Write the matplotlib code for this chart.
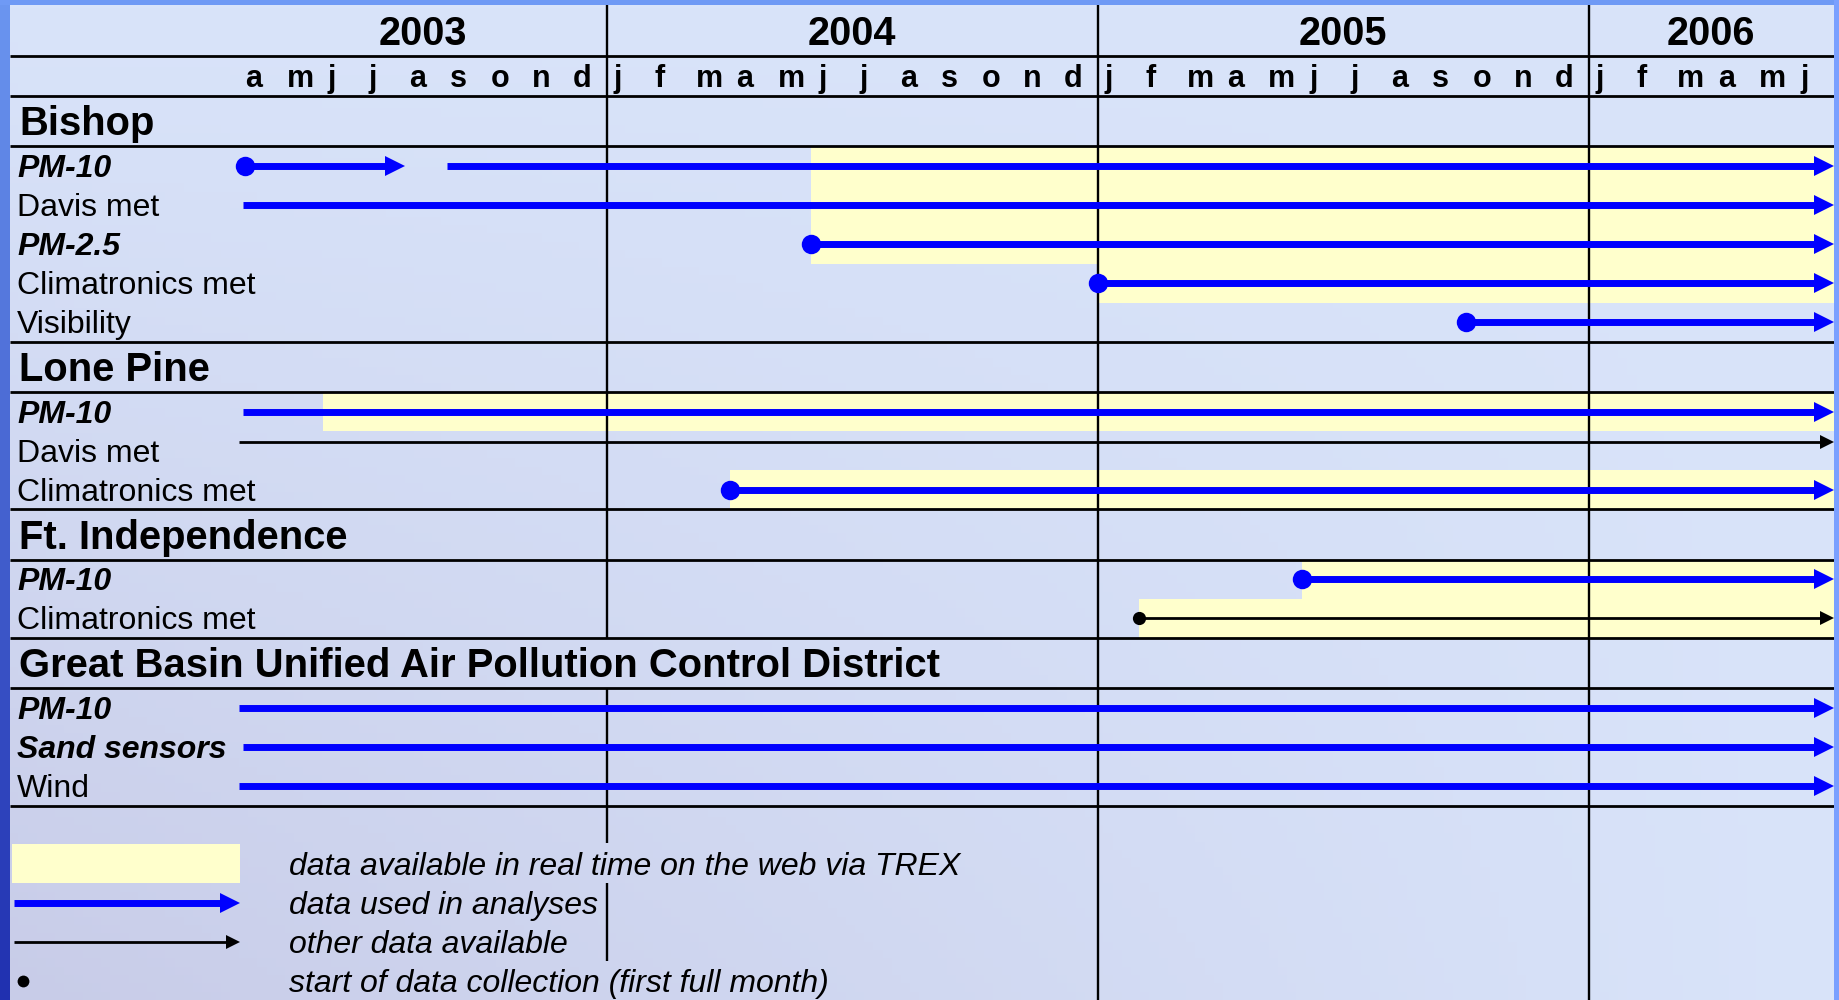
import numpy as np
import matplotlib
matplotlib.use('Agg')
import matplotlib.pyplot as plt

plt.rcParams['font.family'] = ['Liberation Sans', 'DejaVu Sans']

# months counted from Jan 2003 (= 0), so Jan 2004 = 12 etc.
years = ['2003', '2004', '2005', '2006']
year_first = [3, 12, 24, 36]
year_last = [12, 24, 36, 42]
month_letters = 'jfmamjjasond'

group_names = ['Bishop', 'Lone Pine', 'Ft. Independence',
               'Great Basin Unified Air Pollution Control District']

bishop_items = ['PM-10', 'Davis met', 'PM-2.5', 'Climatronics met', 'Visibility']
bishop_italic = [1, 0, 1, 0, 0]
bishop_runs = [[(3.15, 7.05), (8.1, 42)], [(3.1, 42)], [(17, 42)], [(24, 42)], [(33, 42)]]
bishop_dot = [1, 0, 1, 1, 1]
bishop_other = [0, 0, 0, 0, 0]
bishop_trex = [17, 17, 17, 24, None]

lone_items = ['PM-10', 'Davis met', 'Climatronics met']
lone_italic = [1, 0, 0]
lone_runs = [[(3.1, 42)], [(3.0, 42)], [(15, 42)]]
lone_dot = [0, 0, 1]
lone_other = [0, 1, 0]
lone_trex = [5.05, None, 15]

ft_items = ['PM-10', 'Climatronics met']
ft_italic = [1, 0]
ft_runs = [[(29, 42)], [(25, 42)]]
ft_dot = [1, 1]
ft_other = [0, 1]
ft_trex = [29, 25]

gb_items = ['PM-10', 'Sand sensors', 'Wind']
gb_italic = [1, 1, 0]
gb_runs = [[(3.0, 42)], [(3.1, 42)], [(3.0, 42)]]
gb_dot = [0, 0, 0]
gb_other = [0, 0, 0]
gb_trex = [None, None, None]

legend_texts = ['data available in real time on the web via TREX',
                'data used in analyses',
                'other data available',
                'start of data collection (first full month)']

groups = [
    (group_names[0], bishop_items, bishop_italic, bishop_runs, bishop_dot, bishop_other, bishop_trex),
    (group_names[1], lone_items, lone_italic, lone_runs, lone_dot, lone_other, lone_trex),
    (group_names[2], ft_items, ft_italic, ft_runs, ft_dot, ft_other, ft_trex),
    (group_names[3], gb_items, gb_italic, gb_runs, gb_dot, gb_other, gb_trex),
]

# ---- layout (pixels) ----
W, H = 1839, 1000
LEFT, RIGHT, TOP = 10, 1834, 5
X0, X1 = -2.59, 42
MONTH_PX = (RIGHT - LEFT) / (X1 - X0)
YEAR_BOTTOM, MONTH_BOTTOM = 56, 96
HEADER_H, ITEM_H = 50.3, 39.1
TEXT_DY = 3
LINE_DY = {(1, 1): -9}
YELLOW = '#ffffcc'
BLUE = '#0000ff'

fig = plt.figure(figsize=(W / 100, H / 100), dpi=100)

# background gradient + frame
bg = fig.add_axes([0, 0, 1, 1])
bg.axis('off')
xx, yy = np.meshgrid(np.linspace(0, 1, 200), np.linspace(0, 1, 120))
w = ((1 - xx) * yy)[..., None]
c_light = np.array([0xd9, 0xe4, 0xfa]) / 255
c_dark = np.array([0xc8, 0xcc, 0xe8]) / 255
bg.imshow(c_light * (1 - w) + c_dark * w, extent=[0, 1, 0, 1], aspect='auto')
side = np.linspace(0, 1, 100)[:, None, None]
c_top = np.array([0x6b, 0x96, 0xf0]) / 255
c_bot = np.array([0x20, 0x30, 0xb0]) / 255
bg.imshow(c_top * (1 - side) + c_bot * side, extent=[0, LEFT / W, 0, 1], aspect='auto')
bg.add_patch(plt.Rectangle((0, 1 - TOP / H), 1, TOP / H, color='#6f9af5', lw=0))
bg.add_patch(plt.Rectangle((RIGHT / W, 0), 1 - RIGHT / W, 1, color='#7aa0ff', lw=0))
bg.set_xlim(0, 1)
bg.set_ylim(0, 1)

ax = fig.add_axes([LEFT / W, 0, (RIGHT - LEFT) / W, 1 - TOP / H])
ax.set_xlim(X0, X1)
ax.set_ylim(H, TOP)
ax.axis('off')
ax.patch.set_alpha(0)

label_x = X0 + 7 / MONTH_PX


def draw_run(y, runs, other, dot):
    if other:
        col, lw, head, dms = 'black', 2.0, 10, 9.5
    else:
        col, lw, head, dms = BLUE, 5.0, 14, 14
    half = head / 72 * 100 / 2 / MONTH_PX
    for a, b in runs:
        ax.plot([a, b - half], [y, y], color=col, lw=lw, solid_capstyle='butt', zorder=5)
        ax.plot(b - half, y, marker='>', ms=head, color=col, mew=0, zorder=5, clip_on=False)
    if dot:
        ax.plot(runs[0][0], y, marker='o', ms=dms, color=col, mew=0, zorder=6)


# header rows
for yr, a, b in zip(years, year_first, year_last):
    ax.text((a + b) / 2, (TOP + YEAR_BOTTOM) / 2 + TEXT_DY + 1, yr, ha='center', va='center',
            fontsize=28.5, fontweight='bold')
for m in range(3, 42):
    ax.text(m + 0.17, (YEAR_BOTTOM + MONTH_BOTTOM) / 2 + TEXT_DY, month_letters[m % 12],
            ha='left', va='center', fontsize=22, fontweight='bold')

seps = [YEAR_BOTTOM, MONTH_BOTTOM]
gb_header = None
y = MONTH_BOTTOM
for gi, (gname, items, ital, runs, dots, other, trex) in enumerate(groups):
    ax.text(label_x + 2 / MONTH_PX, y + HEADER_H / 2 + TEXT_DY, gname, ha='left', va='center',
            fontsize=28.8, fontweight='bold')
    gb_header = (y, y + HEADER_H)
    y += HEADER_H
    seps.append(y)
    for i, name in enumerate(items):
        yc = y + ITEM_H / 2
        if trex[i] is not None:
            ax.barh(yc, X1 - trex[i], left=trex[i], height=ITEM_H, color=YELLOW, lw=0, zorder=1)
        ax.text(label_x, yc + TEXT_DY, name, ha='left', va='center', fontsize=23,
                fontweight='bold' if ital[i] else 'normal',
                fontstyle='italic' if ital[i] else 'normal', zorder=4)
        draw_run(yc + LINE_DY.get((gi, i), 0), runs[i], other[i], dots[i])
        y += ITEM_H
    seps.append(y)

ax.hlines(seps, X0, X1, color='black', lw=2.0, zorder=3)

# legend
leg_top = 844
leg_rows = [leg_top + ITEM_H * (k + 0.5) for k in range(4)]
g0, g1 = X0 + 2 / MONTH_PX, 3.03
ax.barh(leg_rows[0], g1 - g0, left=g0, height=ITEM_H, color=YELLOW, lw=0, zorder=1)
draw_run(leg_rows[1], [(g0 + 2 / MONTH_PX, g1)], 0, 0)
draw_run(leg_rows[2], [(g0 + 2 / MONTH_PX, g1)], 1, 0)
ax.plot(X0 + 13 / MONTH_PX, leg_rows[3], marker='o', ms=8.5, color='black', mew=0)
for t, yl in zip(legend_texts, leg_rows):
    ax.text(4.22, yl + TEXT_DY, t, ha='left', va='center', fontsize=23, fontstyle='italic')

# year dividers (2004 line is hidden behind the long header and the first legend text)
ax.vlines([24, 36], TOP, H, color='black', lw=1.7, zorder=2)
ax.vlines(12, TOP, gb_header[0], color='black', lw=1.7, zorder=2)
ax.vlines(12, gb_header[1], leg_top - 1, color='black', lw=1.7, zorder=2)
ax.vlines(12, leg_top + ITEM_H, leg_rows[3] - 20, color='black', lw=1.7, zorder=2)

fig.savefig('out.png', dpi=100)
